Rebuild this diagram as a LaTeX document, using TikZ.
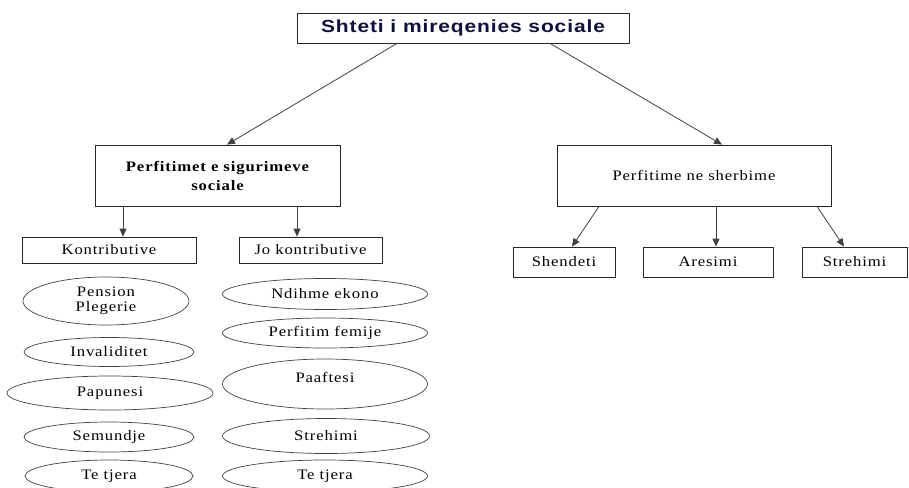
\documentclass[tikz,border=0pt]{standalone}
\usepackage{fontspec}
\setmainfont{Liberation Serif}[LetterSpace=6,FakeStretch=1.15]
\newfontfamily\headfont{Liberation Sans}[LetterSpace=5,FakeStretch=1.2]
\usetikzlibrary{shapes.geometric,arrows.meta}
\definecolor{navy}{HTML}{10103C}
\begin{document}
\begin{tikzpicture}[x=1pt,y=-1pt,
  box/.style={draw=black!85,line width=0.8pt,rectangle,inner sep=0pt,align=center,font=\fontsize{14.5}{18}\selectfont},
  ell/.style={draw=black!75,line width=0.7pt,ellipse,inner sep=0pt,align=center,font=\fontsize{14.5}{15.5}\selectfont},
  txt/.style={inner sep=0pt,font=\fontsize{14.5}{15.5}\selectfont},
  con/.style={draw=black!75,line width=0.8pt},
  arr/.style={con,-{Triangle[length=8pt,width=7pt]}}]
\useasboundingbox (0,0) rectangle (909,487);
% boxes
\node[box,minimum width=332pt,minimum height=30pt,font=\headfont\bfseries\fontsize{17.5}{18}\selectfont,text=navy] (top) at (463,28) {Shteti i mireqenies sociale};
\node[box,minimum width=245pt,minimum height=61pt,font=\bfseries\fontsize{14.5}{19}\selectfont] (psig) at (217.5,175.5) {Perfitimet e sigurimeve\\sociale};
\node[box,minimum width=274pt,minimum height=61pt] (psher) at (694,175.5) {Perfitime ne sherbime};
\node[box,minimum width=174pt,minimum height=26pt] (kontr) at (109,250) {Kontributive};
\node[box,minimum width=143pt,minimum height=26pt] (jokontr) at (310.5,250) {Jo kontributive};
\node[box,minimum width=102pt,minimum height=30pt] (shend) at (564,262) {Shendeti};
\node[box,minimum width=130pt,minimum height=30pt] (ares) at (708,262) {Aresimi};
\node[box,minimum width=105pt,minimum height=30pt] (streh) at (854.5,262) {Strehimi};
% ellipses left
\node[ell,minimum width=166pt,minimum height=48pt] (e1) at (106,301) {Pension\\Plegerie};
\node[ell,minimum width=170pt,minimum height=29pt] (e2) at (109,352) {Invaliditet};
\node[ell,minimum width=206pt,minimum height=34pt] (e3) at (110,393) {Papunesi};
\node[ell,minimum width=170pt,minimum height=30pt] (e4) at (109,437) {Semundje};
\node[ell,minimum width=168pt,minimum height=32pt] (e5) at (109,476) {Te tjera};
% ellipses right
\node[ell,minimum width=205pt,minimum height=31pt] (f1) at (325,294) {Ndihme ekono};
\node[ell,minimum width=205pt,minimum height=30pt] (f2) at (325,333) {Perfitim femije};
\node[ell,minimum width=205pt,minimum height=50pt] (f3) at (325,384) {};
\node[txt] (f3t) at (325,377) {Paaftesi};
\node[ell,minimum width=207pt,minimum height=35pt] (f4) at (326,436) {Strehimi};
\node[ell,minimum width=205pt,minimum height=32pt] (f5) at (325,476) {Te tjera};
% connectors
\draw[arr] ([xshift=-66pt]top.south) -- ([xshift=9.5pt]psig.north);
\draw[arr] ([xshift=87pt]top.south) -- ([xshift=28pt]psher.north);
\draw[arr] ([xshift=-94.5pt]psig.south) -- ([xshift=14pt]kontr.north);
\draw[arr] ([xshift=79.5pt]psig.south) -- ([xshift=-13.5pt]jokontr.north);
\draw[arr] ([xshift=-95pt]psher.south) -- ([xshift=8pt]shend.north);
\draw[arr] ([xshift=22pt]psher.south) -- ([xshift=8pt]ares.north);
\draw[arr] ([xshift=123pt]psher.south) -- ([xshift=-10.5pt]streh.north);
\end{tikzpicture}
\end{document}
